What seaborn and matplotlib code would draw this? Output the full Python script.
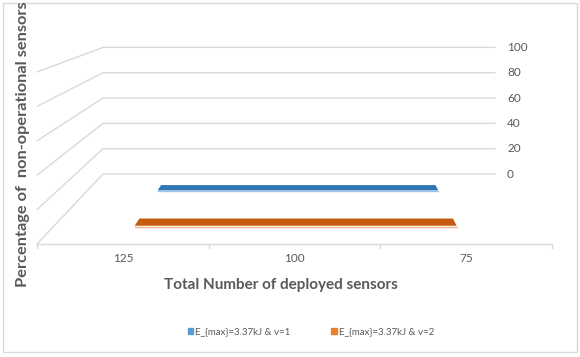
import matplotlib
matplotlib.use("Agg")
import matplotlib.pyplot as plt
from matplotlib.patches import Patch, Rectangle
import numpy as np
import seaborn as sns

# ---- data -------------------------------------------------------------
categories = ["125", "100", "75"]
series_names = ["E_{max}=3.37kJ & v=1", "E_{max}=3.37kJ & v=2"]
values_v1 = [0, 0, 0]
values_v2 = [0, 0, 0]
value_ticks = [0, 20, 40, 60, 80, 100]

x_title = "Total Number of deployed sensors"
y_title = "Percentage of  non-operational sensors"

# ---- style ------------------------------------------------------------
sns.set_theme(style="white")
plt.rcParams["font.family"] = ["Lato", "DejaVu Sans"]

TEXT = "#595959"
GRID = "#D9D9D9"
face_colors = ["#2E75B6", "#C55A11"]
edge_colors = ["#9DC3E6", "#F4B183"]
legend_colors = ["#5B9BD5", "#ED7D31"]

# ---- perspective scene ------------------------------------------------
# Walls/floor are described in a unit box: u across categories (0..1),
# v along the value axis (0..vmax), z in depth (0 = back wall, 1 = front).
VMAX = value_ticks[-1]
BACK = dict(x0=103.0, x1=495.0, y0=174.0, yv=126.6)   # back wall frame
FRONT = dict(x0=37.0, x1=552.0, y0=244.0, yv=172.0)   # front frame
PERSP = 0.73


def depth_frac(z):
    return PERSP * z / (1.0 + (PERSP - 1.0) * z)


def project(u, v, z):
    t = depth_frac(np.asarray(z, dtype=float))
    u = np.asarray(u, dtype=float)
    v = np.asarray(v, dtype=float) / VMAX
    xb = BACK["x0"] + (BACK["x1"] - BACK["x0"]) * u
    yb = BACK["y0"] - BACK["yv"] * v
    xf = FRONT["x0"] + (FRONT["x1"] - FRONT["x0"]) * u
    yf = FRONT["y0"] - FRONT["yv"] * v
    return xb + t * (xf - xb), yb + t * (yf - yb)


W, H = 580, 357
fig = plt.figure(figsize=(W / 100, H / 100), dpi=100)
ax = fig.add_axes([0, 0, 1, 1])
ax.set_xlim(0, W)
ax.set_ylim(H, 0)
ax.axis("off")

# chart border
ax.add_patch(Rectangle((3, 3), W - 6, H - 8, fill=False, ec=GRID, lw=1.0))

# back wall and side wall gridlines
for v in value_ticks:
    x, y = project([1, 0, 0], [v, v, v], [0, 0, 1])
    ax.plot(x, y, color=GRID, lw=1.0, solid_joinstyle="miter", zorder=1)
    lx, ly = project(1, v, 0)
    ax.text(lx + 12, ly, str(v), ha="left", va="center", color=TEXT, fontsize=8.5)

# floor front edge (category axis) with ticks between categories
n = len(categories)
x, y = project([0, 1], [0, 0], [1, 1])
ax.plot(x, y, color=GRID, lw=1.0, zorder=1)
for k in range(n + 1):
    tx, ty = project(k / n, 0, 1)
    ax.plot([tx, tx], [ty, ty + 4], color=GRID, lw=1.0, zorder=1)
for i, c in enumerate(categories):
    tx, ty = project((i + 0.5) / n, 0, 1)
    ax.text(tx, ty + 14, c, ha="center", va="center", color=TEXT, fontsize=8.5)

# ribbons (one depth slot per series)
series_values = [values_v1, values_v2]
half_depth = 0.045
for s, vals in enumerate(series_values):
    zc = (s + 0.5) / len(series_values)
    u = [(i + 0.5) / n for i in range(n)]
    bx, by = project(u, vals, [zc - half_depth] * n)
    fx, fy = project(u, vals, [zc + half_depth] * n)
    ax.fill(np.r_[bx, fx[::-1]], np.r_[by, fy[::-1]],
            color=face_colors[s], lw=0, zorder=3)
    ax.plot(fx, fy + 0.8, color=edge_colors[s], lw=1.0, zorder=2)

# axis titles
ax.text(281, 285, x_title, ha="center", va="center", color=TEXT,
        fontsize=11, fontweight="bold")
ax.text(23, 144, y_title, ha="center", va="center", rotation=90,
        color=TEXT, fontsize=11.8, fontweight="bold")

# legend
handles = [Patch(color=c, label=l) for c, l in zip(legend_colors, series_names)]
fig.legend(handles=handles, loc="center", ncol=2, frameon=False,
           bbox_to_anchor=(311 / W, 1 - 332 / H), fontsize=7,
           handlelength=0.55, handleheight=0.55, handletextpad=0.2,
           columnspacing=4.2, labelcolor=TEXT)

fig.savefig("out.png", dpi=100)
